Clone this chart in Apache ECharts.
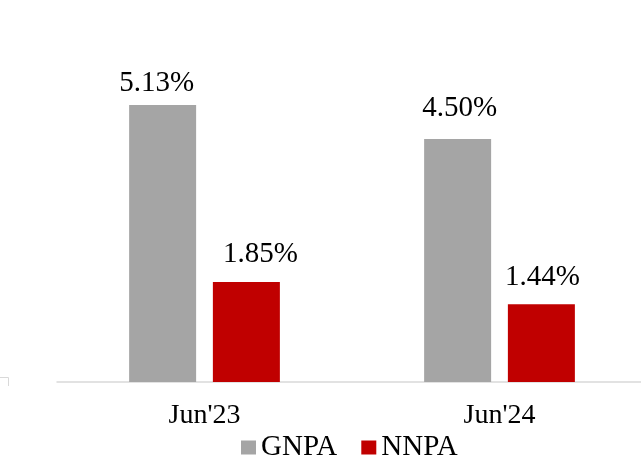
<!DOCTYPE html>
<html>
<head>
<meta charset="utf-8">
<script src="https://cdn.jsdelivr.net/npm/echarts@6/dist/echarts.min.js"></script>
<style>
  html, body { margin: 0; padding: 0; background: #fff; }
  #chart { width: 641px; height: 462px; }
</style>
</head>
<body>
<div id="chart"></div>
<script>
const categories = ["Jun'23", "Jun'24"]
const gnpa = [5.13, 4.50]
const nnpa = [1.85, 1.44]

// 数据标签的偏移（原图中标签并不完全居中）
const gnpaLabelShift = [[-6, 6], [2, -3]]
const nnpaLabelShift = [[14, 0], [1, 1]]

const chart = echarts.init(document.getElementById('chart'))

const font = '"Liberation Serif", "Times New Roman", serif'

const labelFmt = (p) => p.value.toFixed(2) + '%'

const withShift = (values, shifts) =>
  values.map((v, i) => ({ value: v, label: { offset: shifts[i] } }))

const option = {
  animation: false,
  grid: { left: 57, width: 590, top: 58, bottom: 80, outerBoundsMode: 'none', containLabel: false },
  legend: {
    data: ['GNPA', 'NNPA'],
    bottom: -5,
    left: 236,
    itemWidth: 15,
    itemHeight: 14,
    itemGap: 24,
    icon: 'rect',
    textStyle: { fontFamily: font, fontSize: 29, color: '#000' }
  },
  xAxis: {
    type: 'category',
    data: categories,
    axisLine: { lineStyle: { color: '#D9D9D9', width: 1.5 } },
    axisTick: { show: false },
    axisLabel: { fontFamily: font, fontSize: 28, color: '#000', margin: 20 }
  },
  yAxis: {
    type: 'value',
    min: 0,
    max: 6,
    show: false
  },
  series: [
    {
      name: 'GNPA',
      type: 'bar',
      data: withShift(gnpa, gnpaLabelShift),
      barWidth: 67,
      barGap: '25%',
      itemStyle: { color: '#A5A5A5' },
      label: { show: true, position: 'top', distance: 13, formatter: labelFmt,
        fontFamily: font, fontSize: 29, color: '#000' }
    },
    {
      name: 'NNPA',
      type: 'bar',
      data: withShift(nnpa, nnpaLabelShift),
      barWidth: 67,
      itemStyle: { color: '#C00000' },
      label: { show: true, position: 'top', distance: 13, formatter: labelFmt,
        fontFamily: font, fontSize: 29, color: '#000' }
    }
  ],
  graphic: [
    {
      type: 'polyline',
      shape: { points: [[0, 377.5], [8.5, 377.5], [8.5, 386]] },
      style: { stroke: '#D9D9D9', lineWidth: 1, fill: null }
    }
  ]
}

chart.setOption(option)
</script>
</body>
</html>
